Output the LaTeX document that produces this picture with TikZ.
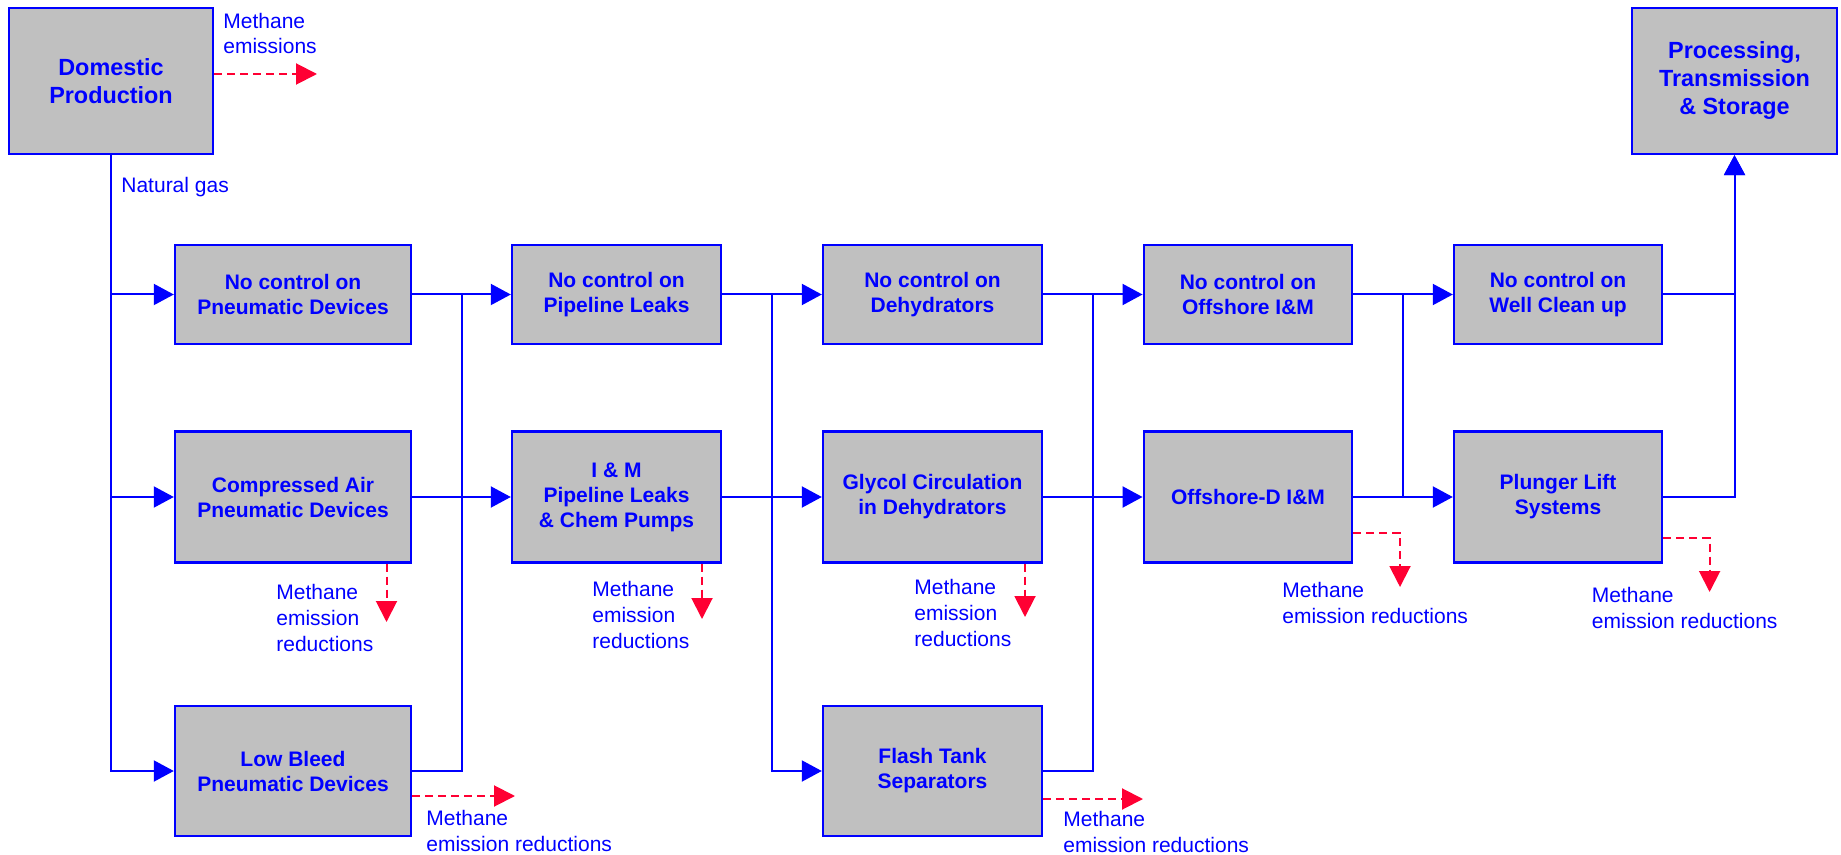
\documentclass[tikz,border=0pt]{standalone}
\usepackage{fontspec}
\setmainfont{Liberation Sans}
\usetikzlibrary{arrows.meta,calc}
\definecolor{boxgray}{RGB}{192,192,192}
\definecolor{leakred}{RGB}{255,0,51}

\begin{document}
\begin{tikzpicture}[
  x=0.5pt, y=-0.5pt,
  unit/.style={draw=blue, fill=boxgray, line width=1.2pt,
    text=blue, align=center, inner sep=0pt,
    font=\fontsize{10.5pt}{12.5pt}\selectfont\bfseries},
  endunit/.style={unit, minimum width=102pt, minimum height=73pt,
    font=\fontsize{11.7pt}{14pt}\selectfont\bfseries},
  flow/.style={-{Triangle[length=10pt,width=10.5pt]},
    draw=blue, line width=1pt},
  link/.style={draw=blue, line width=1pt},
  leak/.style={-{Triangle[length=10.5pt,width=10.5pt]},
    draw=leakred, line width=1pt, dash pattern=on 4pt off 2.5pt},
  note/.style={text=blue, align=left, inner sep=0pt, anchor=west,
    font=\fontsize{10.5pt}{13pt}\selectfont}
]
\useasboundingbox (0,0) rectangle (1841,855);

% source and sink
\node[endunit] (dom) at (111,81) {Domestic\\Production};
\node[endunit, minimum width=102.5pt] (pts) at (1734.5,81) {Processing,\\Transmission\\\& Storage};

% pneumatic devices
\node[unit, minimum width=118pt, minimum height=49.5pt] (ncpn) at (293,294.5) {No control on\\Pneumatic Devices};
\node[unit, minimum width=118pt, minimum height=65.5pt] (capn) at (293,497) {Compressed Air\\Pneumatic Devices};
\node[unit, minimum width=118pt, minimum height=65pt] (lbpn) at (293,771) {Low Bleed\\Pneumatic Devices};

% pipeline leaks
\node[unit, minimum width=104.5pt, minimum height=49.5pt] (ncpl) at (616.5,294.5) {No control on\\Pipeline Leaks};
\node[unit, minimum width=104.5pt, minimum height=65.5pt] (impl) at (616.5,497) {I \& M\\Pipeline Leaks\\\& Chem Pumps};

% dehydrators
\node[unit, minimum width=109.5pt, minimum height=49.5pt] (ncdh) at (932.5,294.5) {No control on\\Dehydrators};
\node[unit, minimum width=109.5pt, minimum height=65.5pt] (gly) at (932.5,497) {Glycol Circulation\\in Dehydrators};
\node[unit, minimum width=109.5pt, minimum height=65pt] (fts) at (932.5,771) {Flash Tank\\Separators};

% offshore
\node[unit, minimum width=104.25pt, minimum height=49.5pt] (ncof) at (1248,294.5) {No control on\\Offshore I\&M};
\node[unit, minimum width=104.25pt, minimum height=65.5pt] (offd) at (1248,497) {Offshore-D I\&M};

% wells
\node[unit, minimum width=104pt, minimum height=49.5pt] (ncwc) at (1558,294.5) {No control on\\Well Clean up};
\node[unit, minimum width=104pt, minimum height=65.5pt] (plg) at (1558,497) {Plunger Lift\\Systems};

% gas flow
\draw[flow] (dom.south) |- (ncpn.west);
\draw[flow] (dom.south) |- (capn.west);
\draw[flow] (dom.south) |- (lbpn.west);
\node[note] (gas) at (121,187) {Natural gas};

\draw[flow] (ncpn.east) -- (ncpl.west);
\draw[flow] (capn.east) -- (impl.west);
\draw[link] (lbpn.east) -| ($(ncpn.east)!.5!(ncpl.west)$);

\draw[flow] (ncpl.east) -- (ncdh.west);
\draw[flow] (impl.east) -- (gly.west);
\draw[flow] ($(ncpl.east)!.5!(ncdh.west)$) |- (fts.west);

\draw[flow] (ncdh.east) -- (ncof.west);
\draw[flow] (gly.east) -- (offd.west);
\draw[link] (fts.east) -| ($(ncdh.east)!.5!(ncof.west)$);

\draw[flow] (ncof.east) -- (ncwc.west);
\draw[flow] (offd.east) -- (plg.west);
\draw[link] ($(ncof.east)!.5!(ncwc.west)$) -- ($(offd.east)!.5!(plg.west)$);

\draw[flow] (ncwc.east) -| (pts.south);
\draw[flow] (plg.east) -| (pts.south);

% methane
\coordinate (domout) at (317,74);
\draw[leak] ([yshift=3.5pt]dom.east) -- (domout);
\node[note] (domnote) at (223,33.5) {Methane\\emissions};

\coordinate (caout) at (386.5,622);
\draw[leak] ([xshift=46.75pt]capn.south) -- (caout);
\node[note] (canote) at (276,618) {Methane\\emission\\reductions};

\coordinate (lbout) at (515,796);
\draw[leak] ([yshift=-12.5pt]lbpn.east) -- (lbout);
\node[note] (lbnote) at (426,830.5) {Methane\\emission reductions};

\coordinate (imout) at (702,619);
\draw[leak] ([xshift=42.75pt]impl.south) -- (imout);
\node[note] (imnote) at (592,615) {Methane\\emission\\reductions};

\coordinate (glyout) at (1025,617);
\draw[leak] ([xshift=46.25pt]gly.south) -- (glyout);
\node[note] (glynote) at (914,613) {Methane\\emission\\reductions};

\coordinate (ftsout) at (1143,799);
\draw[leak] ([yshift=-14pt]fts.east) -- (ftsout);
\node[note] (ftsnote) at (1063,832) {Methane\\emission reductions};

\coordinate (offout) at (1400,587);
\draw[leak] ([yshift=-18pt]offd.east) -| (offout);
\node[note] (offnote) at (1282,603) {Methane\\emission reductions};

\coordinate (plgout) at (1709.6,592);
\draw[leak] ([yshift=-20.5pt]plg.east) -| (plgout);
\node[note] (plgnote) at (1591.5,608) {Methane\\emission reductions};
\end{tikzpicture}
\end{document}
